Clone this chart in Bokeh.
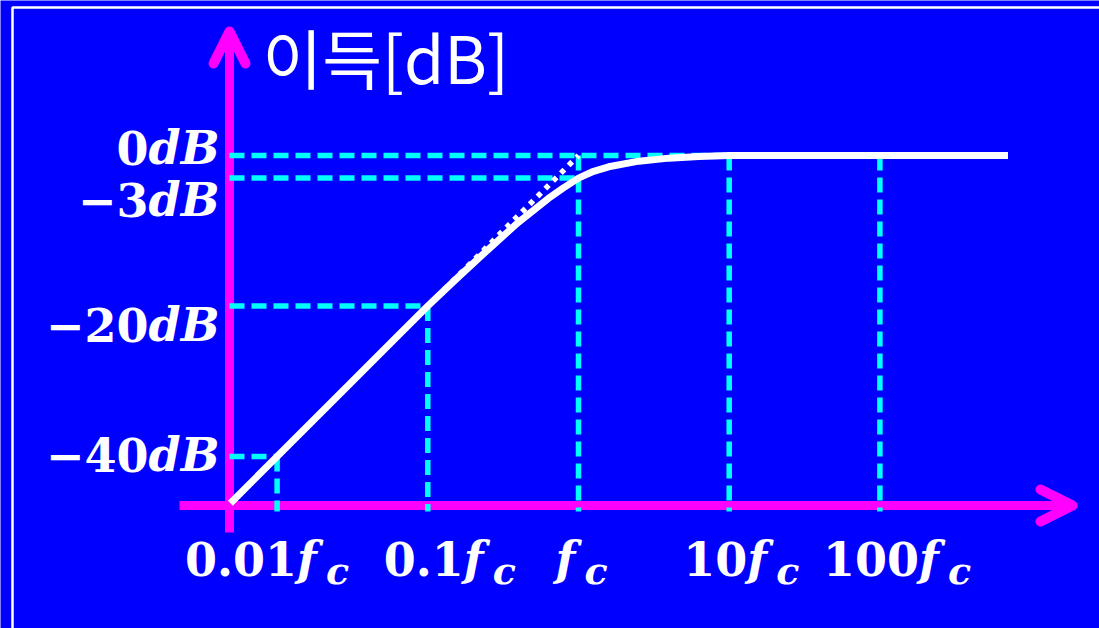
from bokeh.plotting import figure
from bokeh.models import Range1d, ColumnDataSource
from bokeh.core.properties import value
from bokeh.embed import file_html
from bokeh.resources import INLINE

# ---------------------------------------------------------------------------
# Data: frequency in decades relative to the cutoff (log10(f / fc)), gain in dB
# ---------------------------------------------------------------------------
curve_dec = [-2.31, -2.0, -1.5, -1.2, -1.0, -0.8, -0.6, -0.4, -0.2, -0.1, 0.0,
             0.1, 0.2, 0.4, 0.6, 0.8, 1.0, 1.5, 2.0, 2.85]
curve_db = [-46.2, -40.0, -30.0, -24.0, -20.0, -16.2, -12.5, -8.9, -5.7, -4.3, -3.0,
            -2.1, -1.5, -0.75, -0.35, -0.12, 0.0, 0.0, 0.0, 0.0]

# straight-line (asymptotic) approximation below the cutoff
asym_dec = [-1.15, 0.0]
asym_db = [-23.0, 0.0]

gain_levels_db = [0, -3, -20, -40]
gain_level_nums = ["0", "\u22123", "\u221220", "\u221240"]
gain_level_at_dec = [1, 0, -1, -2]

freq_dec = [-2, -1, 0, 1, 2]
freq_nums = ["0.01", "0.1", "", "10", "100"]
freq_guide_top_db = [-40, -20, 0, 0, 0]

title_text = "이득[dB]"

# ---------------------------------------------------------------------------
# Layout
# ---------------------------------------------------------------------------
W, H = 1099, 628
X0_PX, PX_PER_DEC = 578.0, 150.7
Y0_PX, PX_PER_DB = 155.0, 7.525


def xd(px):
    return (px - X0_PX) / PX_PER_DEC


def yd(py):
    return (Y0_PX - py) / PX_PER_DB


BLUE = "#0000FF"
MAGENTA = "#FF00FF"
CYAN = "#00FFFF"
WHITE = "#FFFFFF"

AXIS_X = xd(229)   # vertical (gain) axis
AXIS_Y = yd(505)   # horizontal (frequency) axis

p = figure(width=W, height=H, x_range=Range1d(xd(0), xd(W)),
           y_range=Range1d(yd(H), yd(0)), output_backend="svg",
           toolbar_location=None, min_border=0,
           x_axis_location=None, y_axis_location=None,
           background_fill_color=BLUE, border_fill_color=BLUE,
           outline_line_color=None)
p.grid.visible = False

# thin white frame
p.quad(left=[xd(12)], right=[xd(1120)], top=[yd(7)], bottom=[yd(650)],
       fill_color=None, line_color=WHITE, line_width=2.5)

# axes with open arrow heads
p.line([AXIS_X, AXIS_X], [yd(532), yd(32)], line_color=MAGENTA, line_width=9)
p.line([xd(213), AXIS_X, xd(245)], [yd(63), yd(31), yd(63)],
       line_color=MAGENTA, line_width=10, line_cap="round", line_join="round")
p.line([xd(179), xd(1071)], [AXIS_Y, AXIS_Y], line_color=MAGENTA, line_width=9)
p.line([xd(1040), xd(1072), xd(1040)], [yd(489), AXIS_Y, yd(521)],
       line_color=MAGENTA, line_width=10, line_cap="round", line_join="round")

# dashed guides
hsrc = ColumnDataSource(dict(x0=[AXIS_X] * len(gain_levels_db), y=gain_levels_db,
                             x1=gain_level_at_dec))
p.segment(x0="x0", y0="y", x1="x1", y1="y", source=hsrc,
          line_color=CYAN, line_width=5.5, line_dash="15 7")
vsrc = ColumnDataSource(dict(x=freq_dec, y0=freq_guide_top_db,
                             y1=[yd(511)] * len(freq_dec)))
p.segment(x0="x", y0="y0", x1="x", y1="y1", source=vsrc,
          line_color=CYAN, line_width=5.5, line_dash="15 7")

# response curve and its asymptote
p.line(curve_dec, curve_db, line_color=WHITE, line_width=7, line_join="round")
p.line(asym_dec, asym_db, line_color=WHITE, line_width=5.5, line_dash="5 6")

SERIF = value("DejaVu Serif")

# gain labels: number upright, unit italic
ysrc = ColumnDataSource(dict(
    x=[xd(148)] * len(gain_levels_db), y=gain_levels_db, num=gain_level_nums,
    unit=["dB"] * len(gain_levels_db), dy=[-8, 22, 19, -2]))
p.text(x="x", y="y", text="num", y_offset="dy", source=ysrc,
       text_align="right", text_baseline="alphabetic", text_color=WHITE,
       text_font=SERIF, text_font_style="bold", text_font_size="46px")
p.text(x="x", y="y", text="unit", y_offset="dy", source=ysrc,
       text_align="left", text_baseline="alphabetic", text_color=WHITE,
       text_font=SERIF, text_font_style="bold italic", text_font_size="46px")

# frequency labels: number + italic f with subscript c
nudge = [20, 36, -23, 18, 39]
fsrc = ColumnDataSource(dict(
    x=freq_dec, y=[yd(558)] * len(freq_dec), num=freq_nums,
    f=["f"] * len(freq_dec), c=["c"] * len(freq_dec),
    dx=nudge, dxc=[n + 29 for n in nudge]))
p.text(x="x", y="y", text="num", x_offset="dx", source=fsrc,
       text_align="right", text_baseline="alphabetic", text_color=WHITE,
       text_font=SERIF, text_font_style="bold", text_font_size="46px")
p.text(x="x", y="y", text="f", x_offset="dx", source=fsrc,
       text_align="left", text_baseline="alphabetic", text_color=WHITE,
       text_font=SERIF, text_font_style="bold italic", text_font_size="46px")
p.text(x="x", y="y", text="c", x_offset="dxc", y_offset=12, source=fsrc,
       text_align="left", text_baseline="alphabetic", text_color=WHITE,
       text_font=SERIF, text_font_style="bold italic", text_font_size="38px")

# axis title
p.text(x=[xd(262)], y=[yd(55)], text=[title_text], text_align="left",
       text_baseline="alphabetic", text_color=WHITE,
       text_font=value("Noto Sans CJK KR"), text_font_size="65px")

open("out.html", "w").write(file_html(p, INLINE))
